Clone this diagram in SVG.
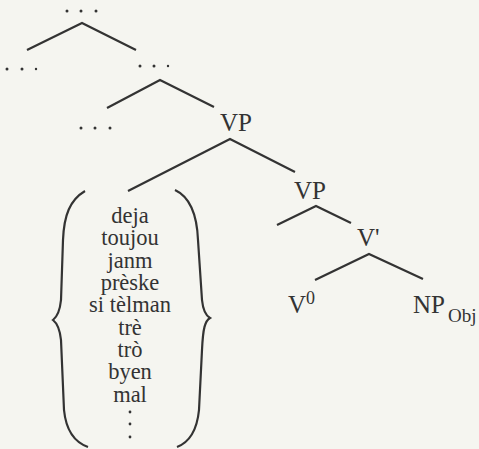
<svg xmlns="http://www.w3.org/2000/svg" width="479" height="449" viewBox="0 0 479 449">
<style>
.l{stroke:#333;stroke-width:2.2;fill:none;stroke-linecap:butt}
.t{font-family:"Liberation Serif","Times New Roman",serif;fill:#333}
.big{font-size:25px}
.w{font-size:22.5px;text-anchor:middle}
.d{fill:#333}
</style>
<rect width="479" height="449" fill="#f5f5f0"/>
<g id="connectors">
<polyline class="l" points="27,50 82,23 136,50"/>
<polyline class="l" points="107,108 160,80 214,107"/>
<polyline class="l" points="128,191 230,139 295,172"/>
<polyline class="l" points="277,225 316,206 351,223"/>
<polyline class="l" points="315,280 369,254 423,279"/>
</g>
<g id="root-dots" class="d">
<circle cx="67" cy="11" r="1.5"/><circle cx="81" cy="11" r="1.5"/><circle cx="96" cy="11" r="1.5"/>
</g>
<g id="left-dots" class="d">
<circle cx="7" cy="69" r="1.5"/><circle cx="22" cy="69" r="1.5"/><circle cx="36" cy="69" r="1.2"/>
</g>
<g id="mid-dots" class="d">
<circle cx="140" cy="66" r="1.5"/><circle cx="154" cy="66" r="1.5"/><circle cx="168" cy="66" r="1.2"/>
</g>
<g id="spec-dots" class="d">
<circle cx="81" cy="128" r="1.5"/><circle cx="95" cy="128" r="1.5"/><circle cx="110" cy="128" r="1.5"/>
</g>
<g id="vp1"><text class="t big" x="220" y="131">VP</text></g>
<g id="vp2"><text class="t big" x="294" y="199">VP</text></g>
<g id="vbar"><text class="t big" x="357" y="246">V'</text></g>
<g id="v0"><text class="t big" x="288" y="313">V<tspan font-size="18" dy="-9">0</tspan></text></g>
<g id="np"><text class="t big" x="413" y="313">NP<tspan font-size="19" dx="3" dy="9">Obj</tspan></text></g>
<g id="adverbs">
<path class="l" stroke-width="2" d="M85,191 C70,200 64,215 63,240 L61,300 C60,310 58,316 53,320 C58,324 60,330 61,340 L64,410 C66,430 74,442 88,447"/>
<path class="l" stroke-width="2" d="M175,190 C190,197 197,215 198,240 L202,300 C203,310 205,315 210,318 C205,321 203,328 202,350 L199,410 C197,430 190,442 177,447"/>
<text class="t w" x="130" y="223">deja</text>
<text class="t w" x="130" y="245">toujou</text>
<text class="t w" x="130" y="268">janm</text>
<text class="t w" x="130" y="290">prèske</text>
<text class="t w" x="130" y="312">si tèlman</text>
<text class="t w" x="130" y="335">trè</text>
<text class="t w" x="130" y="357">trò</text>
<text class="t w" x="130" y="379">byen</text>
<text class="t w" x="130" y="402">mal</text>
<circle class="d" cx="130" cy="412" r="1.4"/>
<circle class="d" cx="130" cy="424" r="1.4"/>
<circle class="d" cx="130" cy="437" r="1.4"/>
</g>
</svg>
